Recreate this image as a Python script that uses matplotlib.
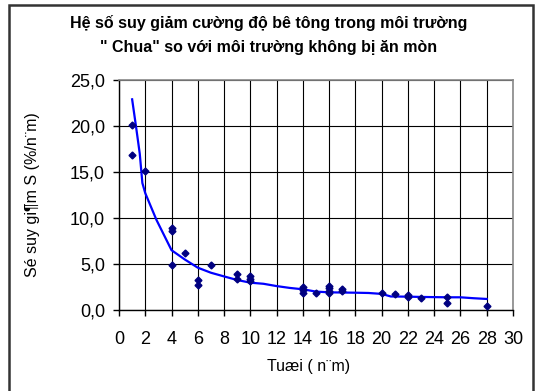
import matplotlib
matplotlib.use("Agg")
import matplotlib.pyplot as plt
from matplotlib.ticker import FuncFormatter, MultipleLocator
from matplotlib.patches import Rectangle

plt.rcParams['font.family'] = ['Liberation Sans', 'DejaVu Sans']

# Measured points (age in years, reduction %/year)
age_pts = [1, 1, 2, 4, 4, 4, 5, 6, 6, 7, 9, 9, 10, 10, 10,
           14, 14, 14, 15, 16, 16, 16, 16, 17, 17, 20, 21, 22, 22, 23, 25, 25, 28]
red_pts = [20.1, 16.9, 15.1, 8.95, 8.6, 4.9, 6.2, 3.26, 2.7, 4.9, 3.95, 3.33, 3.65, 3.33, 3.18,
           2.47, 2.17, 1.88, 1.9, 2.6, 2.36, 2.1, 1.88, 2.25, 2.1, 1.88, 1.78, 1.6, 1.45, 1.34, 1.38, 0.72, 0.4]

# Fitted curve
age_fit = [1, 1.3, 1.58, 1.78, 2, 2.85, 4, 5, 6, 7, 8, 9, 10, 11, 12, 13, 14, 15, 16,
           17, 18, 19, 20, 20.7, 22, 23, 24, 25, 26, 27, 28]
red_fit = [22.9, 19.9, 17.0, 13.8, 12.7, 9.8, 6.5, 5.5, 4.6, 4.05, 3.65, 3.26, 2.97, 2.85, 2.6, 2.4,
           2.25, 2.0, 1.92, 1.9, 1.88, 1.85, 1.75, 1.47, 1.45, 1.42, 1.4, 1.38, 1.38, 1.28, 1.2]

title = "Hệ số suy giảm cường độ bê tông trong môi trường\n\" Chua\" so với môi trường không bị ăn mòn"
xlabel = "Tuæi ( n¨m)"
ylabel = "Sé suy gi¶m S (%/n¨m)"

W, H = 538, 391
fig = plt.figure(figsize=(W / 100, H / 100), dpi=100)
fig.patch.set_facecolor('white')

# outer chart frame
fig.add_artist(Rectangle((9 / W, 1 - 395 / H), (533 - 9) / W, (395 - 5) / H,
                         transform=fig.transFigure, fill=False,
                         edgecolor='#333333', linewidth=1.8))

ax = fig.add_axes([119 / W, 1 - 310 / H, (513 - 119) / W, (310 - 80) / H])
ax.set_xlim(0, 30)
ax.set_ylim(0, 25)
ax.xaxis.set_major_locator(MultipleLocator(2))
ax.yaxis.set_major_locator(MultipleLocator(5))
ax.yaxis.set_major_formatter(FuncFormatter(lambda v, p: f"{v:.1f}".replace('.', ',')))
ax.grid(True, color='black', linewidth=0.8)
ax.set_axisbelow(True)

for s in ['top', 'right']:
    ax.spines[s].set_color('#888888')
    ax.spines[s].set_linewidth(1.2)
for s in ['left', 'bottom']:
    ax.spines[s].set_color('black')
    ax.spines[s].set_linewidth(1.0)

ax.tick_params(axis='both', labelsize=13, length=4, width=1, color='black', pad=6)
ax.tick_params(axis='x', pad=11)

ax.plot(age_fit, red_fit, color='#0000FF', linewidth=1.6, zorder=3)
ax.plot(age_pts, red_pts, linestyle='none', marker='D', markersize=3.5,
        color='#000080', zorder=4)

fig.text(0.5, 1 - 35 / H, title, ha='center', va='center', fontsize=11.5,
         fontweight='bold', linespacing=1.7)
fig.text(309 / W, 1 - 367 / H, xlabel, ha='center', va='center', fontsize=11.5)
fig.text(33 / W, 1 - 195 / H, ylabel, ha='center', va='center', fontsize=11.5,
         rotation=90)

fig.savefig('out.png', dpi=100)
